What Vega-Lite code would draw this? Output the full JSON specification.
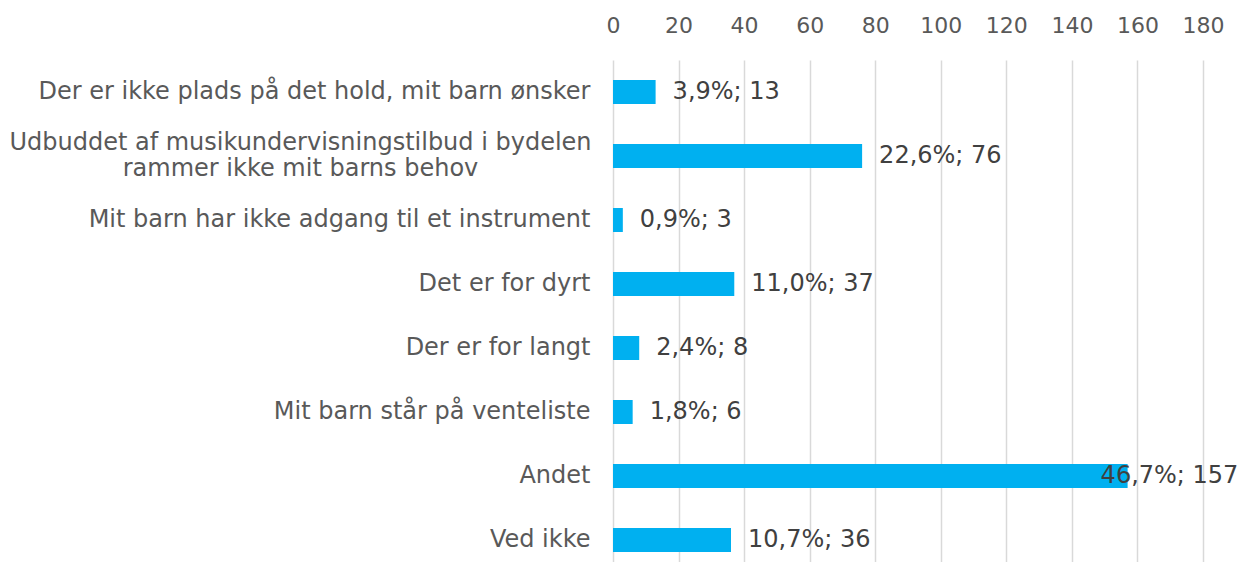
{
  "$schema": "https://vega.github.io/schema/vega-lite/v6.json",
  "autosize": {"type": "none"},
  "padding": {"left": 613, "top": 60, "right": 40, "bottom": 0},
  "width": 590,
  "height": 512,
  "background": "white",
  "config": {"view": {"stroke": null}, "font": "DejaVu Sans"},
  "data": {
    "values": [
      {"cat": "Der er ikke plads på det hold, mit barn ønsker", "n": 13, "label": "3,9%; 13"},
      {"cat": "Udbuddet af musikundervisningstilbud i bydelen rammer ikke mit barns behov", "n": 76, "label": "22,6%; 76"},
      {"cat": "Mit barn har ikke adgang til et instrument", "n": 3, "label": "0,9%; 3"},
      {"cat": "Det er for dyrt", "n": 37, "label": "11,0%; 37"},
      {"cat": "Der er for langt", "n": 8, "label": "2,4%; 8"},
      {"cat": "Mit barn står på venteliste", "n": 6, "label": "1,8%; 6"},
      {"cat": "Andet", "n": 157, "label": "46,7%; 157"},
      {"cat": "Ved ikke", "n": 36, "label": "10,7%; 36"}
    ]
  },
  "encoding": {
    "y": {
      "field": "cat",
      "type": "nominal",
      "sort": null,
      "scale": {"paddingInner": 0.625, "paddingOuter": 0.3125},
      "axis": {
        "title": null,
        "ticks": false,
        "domain": false,
        "labelFont": "DejaVu Sans",
        "labelFontSize": 24,
        "labelColor": "#595959",
        "labelLimit": 0,
        "labelLineHeight": 26,
        "labelAlign": {"condition": {"test": "indexof(datum.value, 'Udbuddet') == 0", "value": "center"}, "value": "right"},
        "labelPadding": {"condition": {"test": "indexof(datum.value, 'Udbuddet') == 0", "value": 313}, "value": 23},
        "labelOffset": {"condition": {"test": "indexof(datum.value, 'Udbuddet') == 0", "value": -13}, "value": 0},
        "labelExpr": "indexof(datum.value, 'Udbuddet') == 0 ? ['Udbuddet af musikundervisningstilbud i bydelen', 'rammer ikke mit barns behov'] : datum.value"
      }
    },
    "x": {
      "field": "n",
      "type": "quantitative",
      "scale": {"domain": [0, 180], "nice": false},
      "axis": {
        "orient": "top",
        "title": null,
        "values": [0, 20, 40, 60, 80, 100, 120, 140, 160, 180],
        "ticks": false,
        "tickSize": 0,
        "domain": false,
        "grid": true,
        "gridColor": "#d9d9d9",
        "gridWidth": 1.5,
        "labelFlush": false,
        "labelFont": "DejaVu Sans",
        "labelFontSize": 22,
        "labelColor": "#595959",
        "labelPadding": 23
      }
    }
  },
  "layer": [
    {"mark": {"type": "bar", "color": "#00B0F0"}},
    {
      "mark": {
        "type": "text",
        "align": "left",
        "baseline": "middle",
        "font": "DejaVu Sans",
        "fontSize": 24,
        "color": "#404040",
        "dx": {"expr": "datum.n > 150 ? -27 : 17"}
      },
      "encoding": {"text": {"field": "label"}}
    }
  ]
}
